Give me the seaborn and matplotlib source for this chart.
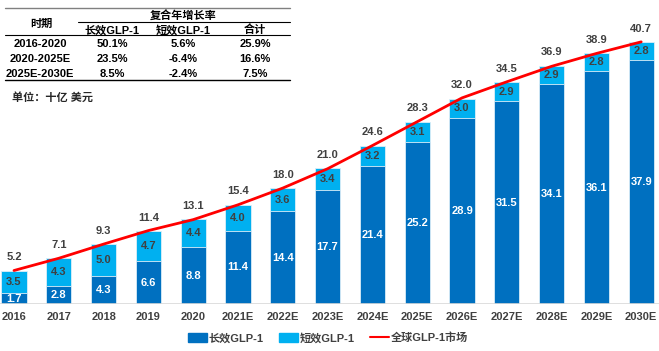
import numpy as np
import pandas as pd
import matplotlib
matplotlib.use('Agg')
import matplotlib.pyplot as plt
from matplotlib.patches import Patch
from matplotlib.lines import Line2D
import seaborn as sns

sns.set_style('white')
plt.rcParams['font.family'] = ['Liberation Sans', 'Noto Sans CJK SC', 'DejaVu Sans']
plt.rcParams['axes.unicode_minus'] = False

# 数据
years = ['2016', '2017', '2018', '2019', '2020', '2021E', '2022E', '2023E',
         '2024E', '2025E', '2026E', '2027E', '2028E', '2029E', '2030E']
long_glp1 = [1.7, 2.8, 4.3, 6.6, 8.8, 11.4, 14.4, 17.7, 21.4, 25.2, 28.9, 31.5, 34.1, 36.1, 37.9]
short_glp1 = [3.5, 4.3, 5.0, 4.7, 4.4, 4.0, 3.6, 3.4, 3.2, 3.1, 3.0, 2.9, 2.9, 2.8, 2.8]
total_market = [5.2, 7.1, 9.3, 11.4, 13.1, 15.4, 18.0, 21.0, 24.6, 28.3, 32.0, 34.5, 36.9, 38.9, 40.7]

# 复合年增长率表
cagr_periods = ['2016-2020', '2020-2025E', '2025E-2030E']
cagr_long = ['50.1%', '23.5%', '8.5%']
cagr_short = ['5.6%', '-6.4%', '-2.4%']
cagr_total = ['25.9%', '16.6%', '7.5%']

DARK = '#0070C0'
LIGHT = '#00B0F0'
RED = '#FF0000'
GREY = '#404040'

df = pd.DataFrame({'year': years, 'long': long_glp1, 'short': short_glp1, 'total': total_market})
df['stack'] = df['long'] + df['short']

W, H = 659, 351
fig = plt.figure(figsize=(W / 100, H / 100), dpi=100)
ax = fig.add_axes([0, 47 / H, 1, 304 / H])

sns.barplot(data=df, x='year', y='stack', color=LIGHT, saturation=1, width=0.56,
            edgecolor='#DDEEF8', linewidth=0.6, ax=ax)
sns.barplot(data=df, x='year', y='long', color=DARK, saturation=1, width=0.56,
            edgecolor='#DDEEF8', linewidth=0.6, ax=ax)
sns.lineplot(x=np.arange(len(years)), y=df['total'], color=RED, linewidth=2, ax=ax)

for i, row in df.iterrows():
    ax.text(i, row['long'] / 2, f"{row['long']:.1f}", ha='center', va='center',
            color='white', fontsize=8, fontweight='bold')
    ax.text(i, row['long'] + row['short'] / 2, f"{row['short']:.1f}", ha='center', va='center',
            color=GREY, fontsize=8, fontweight='bold')
    ax.annotate(f"{row['total']:.1f}", (i, row['stack']), xytext=(0, 6), textcoords='offset points',
                ha='center', va='bottom', color=GREY, fontsize=8, fontweight='bold')

ax.set_xlim(-14 / 44.8, (W - 14) / 44.8)
ax.set_ylim(0, 47.2)
ax.axhline(0, color='#D9D9D9', linewidth=1.2)
sns.despine(ax=ax, left=True, bottom=True)
ax.set_yticks([])
ax.set_xlabel('')
ax.set_ylabel('')
ax.tick_params(axis='x', length=0, pad=6)
for lbl in ax.get_xticklabels():
    lbl.set_fontsize(8)
    lbl.set_fontweight('bold')
    lbl.set_color(GREY)

# 表格 (像素坐标)
tab = fig.add_axes([0, 0, 1, 1], facecolor='none')
tab.set_xlim(0, W)
tab.set_ylim(H, 0)
tab.axis('off')
tk = dict(fontsize=8, fontweight='bold', color='black', ha='center', va='center')
tab.plot([5, 290], [8, 8], color='#808080', lw=1)
tab.plot([78, 290], [22, 22], color='black', lw=0.8)
tab.plot([5, 290], [35, 35], color='black', lw=0.8)
tab.plot([5, 290], [80, 80], color='black', lw=1)
tab.text(41, 24, '时期', **tk)
tab.text(183, 15, '复合年增长率', **tk)
tab.text(112, 30, '长效GLP-1', **tk)
tab.text(183, 30, '短效GLP-1', **tk)
tab.text(255, 30, '合计', **tk)
for r, (p, a, b, c) in enumerate(zip(cagr_periods, cagr_long, cagr_short, cagr_total)):
    y = 44 + r * 15
    tab.text(40, y, p, **tk)
    tab.text(112, y, a, **tk)
    tab.text(183, y, b, **tk)
    tab.text(255, y, c, **tk)
tab.text(12, 97, '单位：十亿 美元', fontsize=8, fontweight='bold', ha='left', va='center')

handles = [Patch(color=DARK, label='长效GLP-1'),
           Patch(color=LIGHT, label='短效GLP-1'),
           Line2D([0], [0], color=RED, lw=1.5, label='全球GLP-1市场')]
leg = fig.legend(handles=handles, loc='center', bbox_to_anchor=(328 / W, 1 - 338 / H), ncol=3,
                 frameon=False, fontsize=8, handlelength=1.7, handleheight=0.8,
                 handletextpad=0.15, columnspacing=1.4)
for t in leg.get_texts():
    t.set_fontweight('bold')
    t.set_color(GREY)

fig.savefig('out.png', dpi=100)
